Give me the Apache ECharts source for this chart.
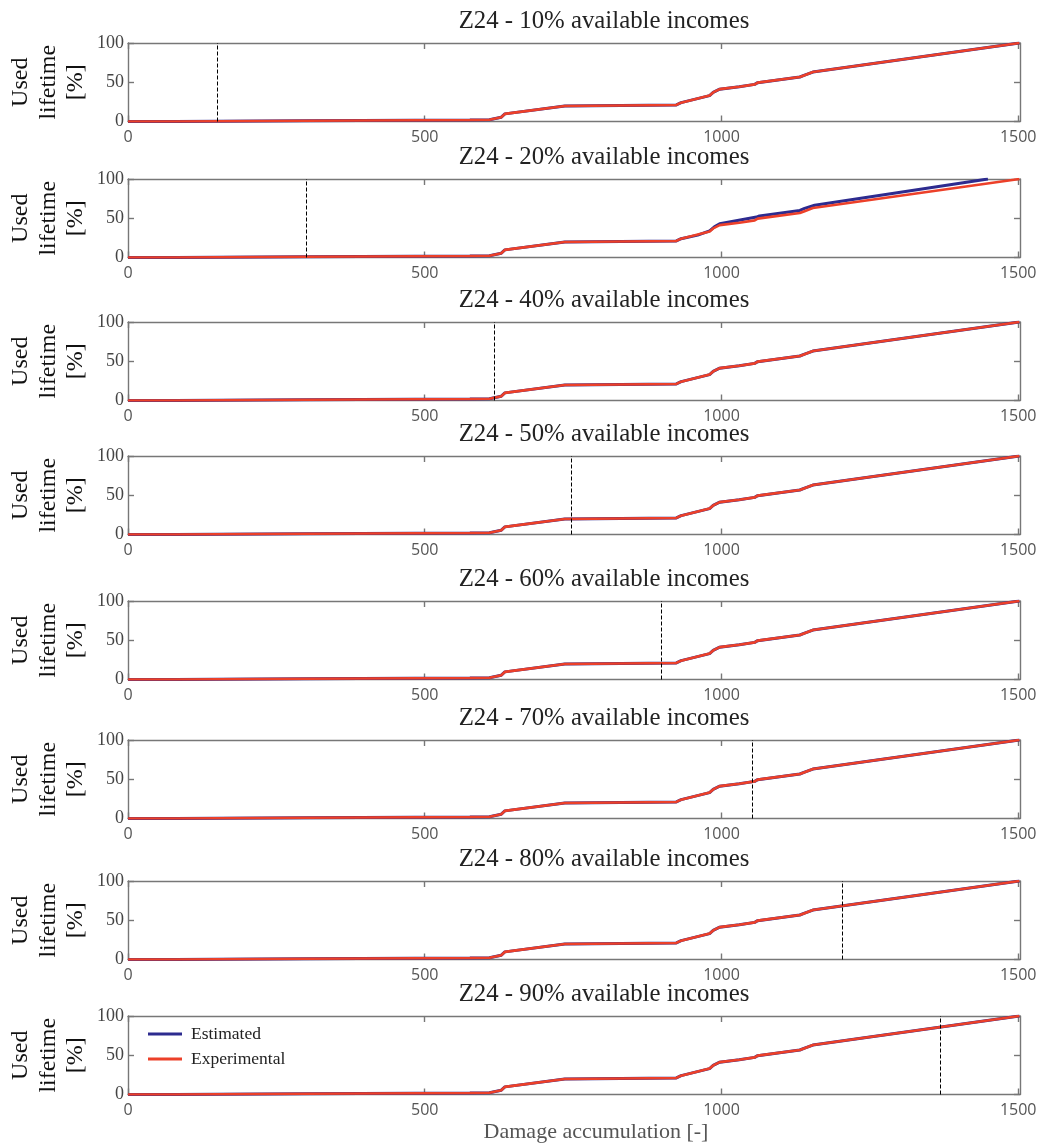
<!DOCTYPE html>
<html>
<head>
<meta charset="utf-8">
<title>Z24 used lifetime</title>
<script src="https://cdn.jsdelivr.net/npm/echarts@6/dist/echarts.min.js"></script>
<style>
  html, body { margin: 0; padding: 0; background: #fff; }
  #chart { width: 1050px; height: 1148px; }
</style>
</head>
<body>
<div id="chart"></div>
<script>
// Share of available incomes used for each panel
const incomeShares = [10, 20, 40, 50, 60, 70, 80, 90];
// Damage accumulation where the available incomes end (dashed marker)
const cutoffDamage = [150, 301, 617, 747, 899, 1052, 1203, 1368];

// Experimental curve: damage accumulation [-] vs used lifetime [%]
const expDamage = [0, 80, 300, 576, 609, 612, 629, 635, 736, 924, 932, 980, 986, 997, 1030, 1056, 1061, 1132, 1140, 1154, 1502];
const expLife   = [0, 0, 1, 2, 2.2, 3.8, 5.5, 9.7, 19.8, 21.1, 24, 33, 37, 41.2, 44.3, 47.3, 49.5, 56.7, 59, 63, 100];

// Estimated curve of the 20 % panel (departs from the experimental one after ~960)
const estDamage20 = [0, 80, 300, 576, 609, 612, 629, 635, 736, 924, 932, 960, 980, 988, 997, 1059, 1064, 1132, 1140, 1157, 1449];
const estLife20   = [0, 0, 1, 2, 2.2, 3.8, 5.5, 9.7, 19.8, 21.1, 24, 28.5, 34, 39, 43, 51.5, 53, 60, 62.5, 66.5, 100];

const xTicks = [0, 500, 1000, 1500];
const legendNames = ['Estimated', 'Experimental'];

function pairs(xs, ys) { return xs.map((x, i) => [x, ys[i]]); }

// panel layout (px)
const panelTops = [43, 179, 322, 456, 601, 740, 881, 1016];
const panelH = 78.5;
const plotLeft = 128, plotRight = 1020;
const titleCenterX = 604;
const X_MAX = 1503;

const axisGrey = '#777777';
const blue = '#2d2b8f';
const red = '#ec4029';
const serif = '"Liberation Serif", "Times New Roman", serif';
const sans = '"Open Sans", "Noto Sans", sans-serif';

const grid = [], xAxis = [], yAxis = [], series = [], graphic = [];

incomeShares.forEach((share, i) => {
  const top = panelTops[i];
  grid.push({ left: plotLeft, width: plotRight - plotLeft, top: top, height: panelH, containLabel: false });

  const lineCommon = { show: true, onZero: false, lineStyle: { color: axisGrey, width: 1.4 } };
  const tickCommon = { show: true, inside: true, length: 6, lineStyle: { color: axisGrey, width: 1.4 } };

  xAxis.push({
    type: 'value', gridIndex: i, position: 'bottom', min: 0, max: X_MAX,
    axisLine: lineCommon,
    axisTick: Object.assign({}, tickCommon, { customValues: xTicks }),
    axisLabel: { customValues: xTicks, margin: 8, color: '#555', fontFamily: sans, fontSize: 16,
                 formatter: v => String(v) },
    splitLine: { show: false }
  });
  xAxis.push({
    type: 'value', gridIndex: i, position: 'top', min: 0, max: X_MAX,
    axisLine: lineCommon,
    axisTick: Object.assign({}, tickCommon, { customValues: xTicks }),
    axisLabel: { show: false },
    splitLine: { show: false }
  });
  yAxis.push({
    type: 'value', gridIndex: i, position: 'left', min: 0, max: 100, interval: 50,
    axisLine: lineCommon, axisTick: tickCommon,
    axisLabel: { margin: 4, color: '#444', fontFamily: serif, fontSize: 18 },
    splitLine: { show: false }
  });
  yAxis.push({
    type: 'value', gridIndex: i, position: 'right', min: 0, max: 100, interval: 50,
    axisLine: lineCommon, axisTick: tickCommon,
    axisLabel: { show: false },
    splitLine: { show: false }
  });

  const est = i === 1 ? pairs(estDamage20, estLife20) : pairs(expDamage, expLife);
  series.push({
    name: legendNames[0], type: 'line', xAxisIndex: 2 * i, yAxisIndex: 2 * i,
    data: est, symbol: 'none', showSymbol: false, animation: false, z: 2,
    lineStyle: { color: blue, width: 3 }, itemStyle: { color: blue }
  });
  series.push({
    name: legendNames[1], type: 'line', xAxisIndex: 2 * i, yAxisIndex: 2 * i,
    data: pairs(expDamage, expLife), symbol: 'none', showSymbol: false, animation: false, z: 3,
    lineStyle: { color: red, width: 2.6 }, itemStyle: { color: red },
    markLine: {
      silent: true, symbol: 'none', animation: false,
      label: { show: false },
      lineStyle: { color: '#000', width: 1, type: [4, 2] },
      data: [{ xAxis: cutoffDamage[i] }]
    }
  });

  // panel title
  graphic.push({
    type: 'text', x: titleCenterX, y: top - 22,
    style: {
      text: 'Z24 - ' + share + '% available incomes',
      fill: '#222', font: '24.8px ' + serif, align: 'center', verticalAlign: 'middle'
    }
  });
  // y axis title, three stacked lines rotated
  graphic.push({
    type: 'text', x: 48.5, y: top + panelH / 2, rotation: Math.PI / 2,
    style: {
      text: 'Used\nlifetime\n[%]', fill: '#111', font: '24px ' + serif,
      align: 'center', verticalAlign: 'middle', lineHeight: 27.5
    }
  });
});

graphic.push({
  type: 'text', x: 596, y: 1132,
  style: { text: 'Damage accumulation [-]', fill: '#555', font: '22px ' + serif, align: 'center', verticalAlign: 'middle' }
});

const chart = echarts.init(document.getElementById('chart'), null, { renderer: 'canvas' });
chart.setOption({
  animation: false,
  backgroundColor: '#fff',
  grid: grid,
  xAxis: xAxis,
  yAxis: yAxis,
  series: series,
  graphic: graphic,
  legend: {
    data: legendNames.map(n => ({ name: n, icon: 'rect' })),
    orient: 'vertical', left: 143, top: 1019,
    itemWidth: 34, itemHeight: 3, itemGap: 5,
    textStyle: { fontFamily: serif, fontSize: 17.5, lineHeight: 20, color: '#222', padding: [0, 0, 0, 4] },
    backgroundColor: 'transparent', selectedMode: false
  }
});
</script>
</body>
</html>
